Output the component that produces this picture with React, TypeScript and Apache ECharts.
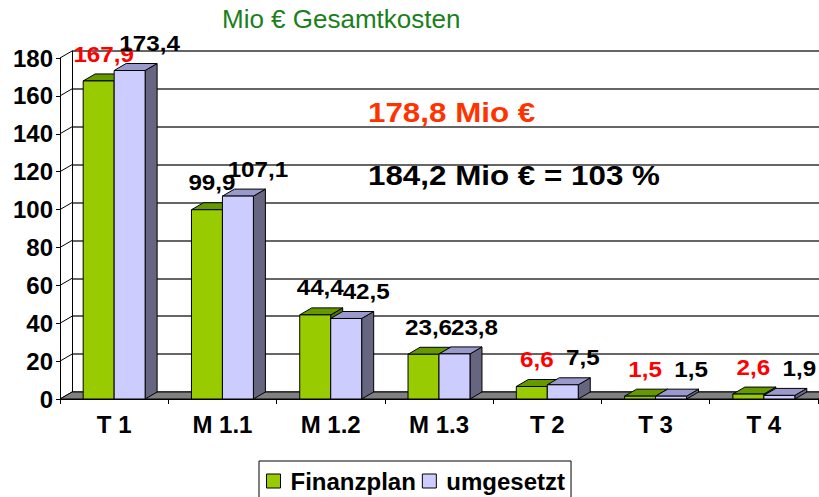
import React, { useEffect, useRef } from "react";
import * as echarts from "echarts";

const categories = ["T 1", "M 1.1", "M 1.2", "M 1.3", "T 2", "T 3", "T 4"];
const finanzplan = [167.9, 99.9, 44.4, 23.6, 6.6, 1.5, 2.6];
const umgesetzt = [173.4, 107.1, 42.5, 23.8, 7.5, 1.5, 1.9];
const yTicks = [0, 20, 40, 60, 80, 100, 120, 140, 160, 180];
const titleText = "Mio € Gesamtkosten";
const noteTotalPlan = "178,8 Mio €";
const noteTotalDone = "184,2 Mio € = 103 %";

const DX = 12;
const DY = -7;
const FONT = '"Liberation Sans", Arial, sans-serif';

const fmt = (v: number) => String(v).replace(".", ",");

function barRenderer(side: "left" | "right", front: string, top: string, sideCol: string) {
  return (params: any, api: any) => {
    const idx = api.value(0);
    const val = api.value(1);
    const band = api.size([1, 0])[0];
    const bw = band * 0.286;
    const [cx, yTop] = api.coord([idx, val]);
    const [, y0] = api.coord([idx, 0]);
    const x0 = side === "left" ? cx - bw : cx;
    const x1 = x0 + bw;
    const h = y0 - yTop;
    const stroke = { stroke: "#000", lineWidth: 1 };
    const red = side === "left" && categories[idx].startsWith("T");
    const labelX = (x0 + x1) / 2 + (side === "left" ? 5 : 20);
    const labelY = yTop + DY - 20;
    return {
      type: "group",
      children: [
        {
          type: "polygon",
          shape: { points: [[x1, yTop], [x1 + DX, yTop + DY], [x1 + DX, y0 + DY], [x1, y0]] },
          style: { fill: sideCol, ...stroke },
        },
        {
          type: "polygon",
          shape: { points: [[x0, yTop], [x1, yTop], [x1 + DX, yTop + DY], [x0 + DX, yTop + DY]] },
          style: { fill: top, ...stroke },
        },
        {
          type: "rect",
          shape: { x: x0, y: yTop, width: bw, height: h },
          style: { fill: front, ...stroke },
        },
        {
          type: "text",
          x: labelX,
          y: labelY,
          scaleX: 1.1,
          style: {
            text: fmt(val),
            fill: red ? "#ff0000" : "#000",
            fontSize: 22,
            fontWeight: "bold",
            fontFamily: FONT,
            align: "center",
            verticalAlign: "middle",
          },
        },
      ],
    };
  };
}

export default function App() {
  const ref = useRef<HTMLDivElement>(null);
  useEffect(() => {
    document.body.style.margin = "0";
    const chart = echarts.init(ref.current!, null, { renderer: "svg" });
    const option: any = {
      animation: false,
      backgroundColor: "#fff",
      title: {
        text: titleText,
        left: 222,
        top: 6,
        padding: 0,
        textStyle: { fontSize: 26, fontWeight: "normal", color: "#1b7f1b", fontFamily: FONT },
      },
      legend: {
        left: 259,
        top: 461,
        data: ["Finanzplan", "umgesetzt"],
        icon: "rect",
        itemWidth: 14,
        itemHeight: 14,
        itemGap: 6,
        borderColor: "#000",
        borderWidth: 1,
        borderRadius: 0,
        padding: [8, 6, 14, 7],
        selectedMode: false,
        textStyle: { fontSize: 24, fontWeight: "bold", color: "#000", fontFamily: FONT, padding: [0, 0, 0, 5] },
        itemStyle: { borderColor: "#000", borderWidth: 1 },
      },
      grid: [
        { left: 60, top: 58, right: 1, bottom: 98 },
        { left: 72, top: 51, right: -12, bottom: 105 },
      ],
      xAxis: [
        {
          type: "category",
          gridIndex: 0,
          data: categories,
          axisLine: { lineStyle: { color: "#000", width: 1 } },
          axisTick: { show: true, length: 5, lineStyle: { color: "#000" } },
          axisLabel: { interval: 0, margin: 13, fontSize: 24, fontWeight: "bold", color: "#000", fontFamily: FONT },
          splitLine: { show: false },
        },
        { type: "value", gridIndex: 1, show: false, min: 0, max: 1 },
      ],
      yAxis: [
        {
          type: "value",
          gridIndex: 0,
          min: 0,
          max: 180,
          interval: 20,
          axisLine: { show: true, lineStyle: { color: "#000", width: 1 } },
          axisTick: { show: true, length: 4, lineStyle: { color: "#000" } },
          axisLabel: { margin: 7, fontSize: 24, fontWeight: "bold", color: "#000", fontFamily: FONT },
          splitLine: { show: false },
        },
        {
          type: "value",
          gridIndex: 1,
          min: 0,
          max: 180,
          interval: 20,
          axisLine: { show: true, lineStyle: { color: "#000", width: 1 } },
          axisTick: { show: false },
          axisLabel: { show: false },
          splitLine: { show: true, lineStyle: { color: "#333", width: 1.6 } },
        },
      ],
      series: [
        {
          type: "custom",
          name: "sidewall",
          xAxisIndex: 0,
          yAxisIndex: 0,
          z: 1,
          silent: true,
          clip: false,
          data: yTicks.map((v) => [0, v]),
          renderItem: (params: any, api: any) => {
            const left = params.coordSys.x;
            const [, y] = api.coord([0, api.value(1)]);
            return {
              type: "line",
              shape: { x1: left, y1: y, x2: left + DX, y2: y + DY },
              style: { stroke: "#000", lineWidth: 1 },
            };
          },
        },
        {
          type: "custom",
          name: "floor",
          xAxisIndex: 0,
          yAxisIndex: 0,
          z: 1,
          silent: true,
          clip: false,
          data: [[0, 0]],
          renderItem: (params: any, api: any) => {
            const cs = params.coordSys;
            const [, y0] = api.coord([0, 0]);
            const l = cs.x;
            const r = cs.x + cs.width;
            return {
              type: "polygon",
              shape: { points: [[l, y0], [r, y0], [r + DX, y0 + DY], [l + DX, y0 + DY]] },
              style: { fill: "#808080", stroke: "#000", lineWidth: 1 },
            };
          },
        },
        {
          type: "custom",
          name: "Finanzplan",
          xAxisIndex: 0,
          yAxisIndex: 0,
          z: 3,
          clip: false,
          itemStyle: { color: "#99cc00" },
          data: finanzplan.map((v, i) => [i, v]),
          encode: { x: 0, y: 1 },
          renderItem: barRenderer("left", "#99cc00", "#669900", "#4d7300"),
        },
        {
          type: "custom",
          name: "umgesetzt",
          xAxisIndex: 0,
          yAxisIndex: 0,
          z: 4,
          clip: false,
          itemStyle: { color: "#ccccff" },
          data: umgesetzt.map((v, i) => [i, v]),
          encode: { x: 0, y: 1 },
          renderItem: barRenderer("right", "#ccccff", "#9999cc", "#666680"),
        },
      ],
      graphic: [
        {
          type: "text",
          left: 368,
          top: 98,
          z: 10,
          scaleX: 1.12,
          style: { text: noteTotalPlan, fill: "#ff3300", fontSize: 28, fontWeight: "bold", fontFamily: FONT },
        },
        {
          type: "text",
          left: 368,
          top: 161,
          z: 10,
          scaleX: 1.12,
          style: { text: noteTotalDone, fill: "#000", fontSize: 28, fontWeight: "bold", fontFamily: FONT },
        },
      ],
    };
    chart.setOption(option);
    return () => chart.dispose();
  }, []);
  return <div ref={ref} style={{ width: 819, height: 497 }} />;
}
